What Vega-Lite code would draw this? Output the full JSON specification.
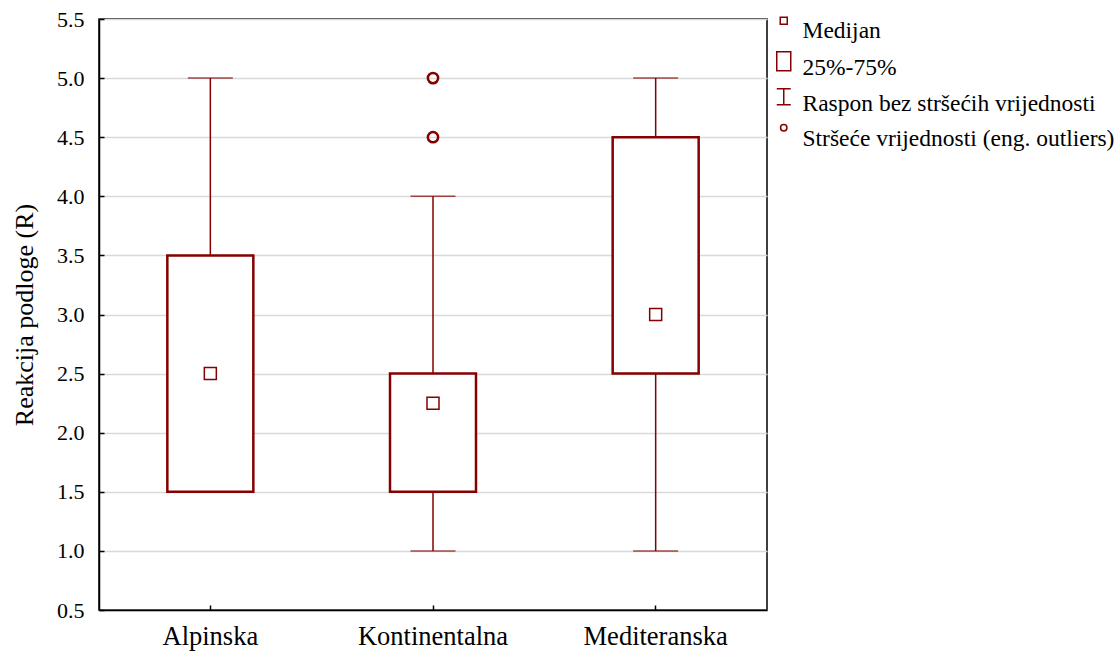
{
  "$schema": "https://vega.github.io/schema/vega-lite/v6.json",
  "width": 668,
  "height": 591,
  "autosize": {"type": "none"},
  "padding": {"left": 99, "top": 19, "right": 352, "bottom": 43},
  "background": "white",
  "config": {
    "font": "Liberation Serif",
    "view": {"stroke": "black", "strokeWidth": 1.5}
  },
  "datasets": {
    "summary": [
      {"region": "Alpinska", "lower": 1.5, "q1": 1.5, "median": 2.5, "q3": 3.5, "upper": 5.0},
      {"region": "Kontinentalna", "lower": 1.0, "q1": 1.5, "median": 2.25, "q3": 2.5, "upper": 4.0},
      {"region": "Mediteranska", "lower": 1.0, "q1": 2.5, "median": 3.0, "q3": 4.5, "upper": 5.0}
    ],
    "outliers": [
      {"region": "Kontinentalna", "value": 4.5},
      {"region": "Kontinentalna", "value": 5.0}
    ],
    "legend": [
      {"item": "Medijan"},
      {"item": "25%-75%"},
      {"item": "Raspon bez stršećih vrijednosti"},
      {"item": "Stršeće vrijednosti (eng. outliers)"}
    ]
  },
  "encoding": {
    "x": {
      "field": "region",
      "type": "nominal",
      "scale": {"domain": ["Alpinska", "Kontinentalna", "Mediteranska"], "paddingInner": 0, "paddingOuter": 0},
      "axis": {
        "title": null,
        "labelAngle": 0,
        "labelFont": "Liberation Serif",
        "labelFontSize": 26.5,
        "labelColor": "black",
        "labelPadding": 18,
        "grid": false,
        "bandPosition": 0.5,
        "domainColor": "black",
        "domainWidth": 1.5,
        "tickColor": "black",
        "tickWidth": 1.5,
        "tickSize": -5
      }
    }
  },
  "layer": [
    {
      "data": {"name": "summary"},
      "mark": {"type": "rule", "color": "#850000", "strokeWidth": 1.5},
      "encoding": {
        "y": {
          "field": "lower",
          "type": "quantitative",
          "scale": {"domain": [0.5, 5.5], "nice": false, "zero": false},
          "axis": {
            "title": "Reakcija podloge (R)",
            "values": [0.5, 1, 1.5, 2, 2.5, 3, 3.5, 4, 4.5, 5, 5.5],
            "format": ".1f",
            "grid": true,
            "gridColor": "#d9d9d9",
            "gridWidth": 1.5,
            "labelFont": "Liberation Serif",
            "labelFontSize": 22,
            "labelColor": "black",
            "labelPadding": 20,
            "titleFont": "Liberation Serif",
            "titleFontSize": 26,
            "titleFontWeight": "normal",
            "titleColor": "black",
            "titlePadding": 19,
            "domainColor": "black",
            "domainWidth": 1.5,
            "tickColor": "black",
            "tickWidth": 1.5,
            "tickSize": -5
          }
        },
        "y2": {"field": "upper"}
      }
    },
    {
      "data": {"name": "summary"},
      "mark": {"type": "tick", "color": "#850000", "size": 45, "thickness": 1.5},
      "encoding": {"y": {"field": "lower", "type": "quantitative"}}
    },
    {
      "data": {"name": "summary"},
      "mark": {"type": "tick", "color": "#850000", "size": 45, "thickness": 1.5},
      "encoding": {"y": {"field": "upper", "type": "quantitative"}}
    },
    {
      "data": {"name": "summary"},
      "mark": {"type": "bar", "size": 86, "fill": "white", "stroke": "#850000", "strokeWidth": 2.5},
      "encoding": {
        "y": {"field": "q1", "type": "quantitative"},
        "y2": {"field": "q3"}
      }
    },
    {
      "data": {"name": "summary"},
      "mark": {"type": "point", "shape": "square", "size": 144, "filled": false, "fill": "white", "fillOpacity": 1, "stroke": "#850000", "strokeWidth": 1.5, "opacity": 1},
      "encoding": {"y": {"field": "median", "type": "quantitative"}}
    },
    {
      "data": {"name": "outliers"},
      "mark": {"type": "point", "shape": "circle", "size": 106, "filled": false, "stroke": "#850000", "strokeWidth": 2.5, "opacity": 1},
      "encoding": {"y": {"field": "value", "type": "quantitative"}}
    },
    {
      "data": {"name": "legend"},
      "mark": {"type": "point", "opacity": 0, "filled": false, "color": "#850000", "stroke": "#850000", "strokeWidth": 1.5},
      "encoding": {
        "x": {"value": 0},
        "y": {"value": 0},
        "shape": {
          "field": "item",
          "type": "nominal",
          "scale": {
            "domain": ["Medijan", "25%-75%", "Raspon bez stršećih vrijednosti", "Stršeće vrijednosti (eng. outliers)"],
            "range": [
              "M-0.35,-1.35H0.35V-0.65H-0.35Z",
              "M-0.7,-1.6H0.7V0.3H-0.7Z",
              "M-0.7,-1.5H0.7M0,-1.5V0.1M-0.7,0.1H0.7",
              "M0.32,-1.1A0.32,0.32 0 1,1 -0.32,-1.1A0.32,0.32 0 1,1 0.32,-1.1Z"
            ]
          },
          "legend": {
            "title": null,
            "orient": "none",
            "legendX": 673,
            "legendY": 0,
            "padding": 0,
            "labelFont": "Liberation Serif",
            "labelFontSize": 23.5,
            "labelColor": "black",
            "labelOffset": 7,
            "labelLimit": 400,
            "rowPadding": 5,
            "symbolSize": 400,
            "symbolOpacity": 1,
            "symbolStrokeColor": "#850000",
            "symbolFillColor": "transparent",
            "symbolStrokeWidth": 1.5,
            "encode": {
              "symbols": {
                "update": {
                  "opacity": {"value": 1},
                  "fill": {"value": "transparent"},
                  "stroke": {"value": "#850000"},
                  "strokeWidth": {"value": 1.5}
                }
              }
            }
          }
        }
      }
    }
  ]
}
